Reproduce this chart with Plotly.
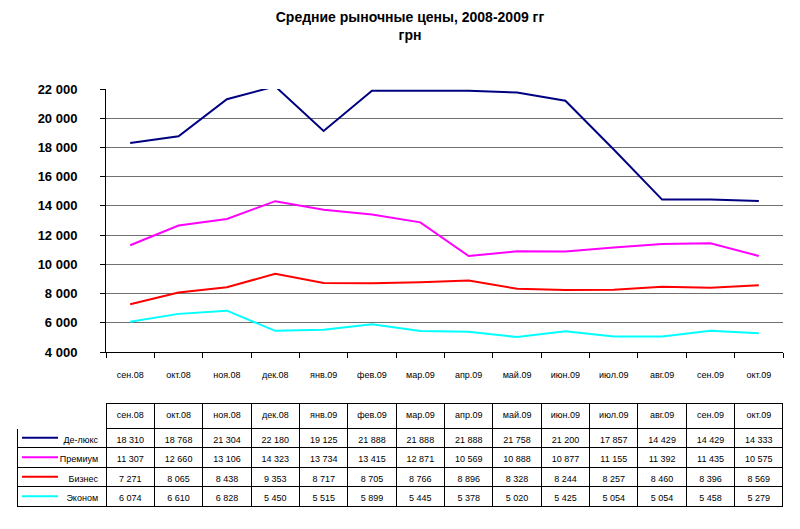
import plotly.graph_objects as go

months = ["сен.08", "окт.08", "ноя.08", "дек.08", "янв.09", "фев.09", "мар.09",
          "апр.09", "май.09", "июн.09", "июл.09", "авг.09", "сен.09", "окт.09"]
series_names = ["Де-люкс", "Премиум", "Бизнес", "Эконом"]
deluxe = [18310, 18768, 21304, 22180, 19125, 21888, 21888, 21888, 21758, 21200, 17857, 14429, 14429, 14333]
premium = [11307, 12660, 13106, 14323, 13734, 13415, 12871, 10569, 10888, 10877, 11155, 11392, 11435, 10575]
business = [7271, 8065, 8438, 9353, 8717, 8705, 8766, 8896, 8328, 8244, 8257, 8460, 8396, 8569]
econom = [6074, 6610, 6828, 5450, 5515, 5899, 5445, 5378, 5020, 5425, 5054, 5054, 5458, 5279]
colors = ["#000080", "#FF00FF", "#FF0000", "#00FFFF"]
all_series = [deluxe, premium, business, econom]

W, H = 800, 529
fig = go.Figure()
for name, vals, c in zip(series_names, all_series, colors):
    fig.add_trace(go.Scatter(x=months, y=vals, mode="lines", name=name,
                             line=dict(color=c, width=2), showlegend=False,
                             cliponaxis=False))

def fmt(v):
    return f"{v:,}".replace(",", " ")

TOP, HDR, ROW = 403, 25, 19.5
cols = [series_names] + [[fmt(s[i]) for s in all_series] for i in range(len(months))]
fig.add_trace(go.Table(
    domain=dict(x=[17 / W, 783 / W], y=[1 - (TOP + HDR + 4 * ROW + 1) / H, 1 - TOP / H]),
    columnwidth=[89] + [48.3] * len(months),
    header=dict(values=[""] + months, height=HDR, align="center",
                font=dict(family="Arial", size=9, color="black"),
                line=dict(color=["white"] + ["black"] * len(months), width=1),
                fill=dict(color="white")),
    cells=dict(values=cols, height=ROW, align=["right"] + ["center"] * len(months),
               font=dict(family="Arial", size=9, color="black"),
               line=dict(color="black", width=1), fill=dict(color="white")),
))

# legend keys inside the table's label column
for i, c in enumerate(colors):
    yc = 1 - (TOP + HDR + ROW * (i + 0.5)) / H
    fig.add_shape(type="line", xref="paper", yref="paper",
                  x0=22 / W, x1=58 / W, y0=yc, y1=yc,
                  line=dict(color=c, width=2))

fig.update_layout(
    width=W, height=H,
    margin=dict(l=0, r=0, t=0, b=0),
    paper_bgcolor="white", plot_bgcolor="white",
    separators=", ",
    title=dict(text="Средние рыночные цены, 2008-2009 гг<br>грн", x=410 / W, xanchor="center",
               y=1 - 22 / H, yanchor="top",
               font=dict(family="Arial", size=14, color="black", weight="bold")),
    xaxis=dict(domain=[106 / W, 783 / W], type="category", range=[-0.5, 13.5],
               tickson="boundaries", automargin=False,
               ticks="outside", ticklen=5, tickcolor="black",
               showline=True, linecolor="black", linewidth=1, showgrid=False,
               tickfont=dict(family="Arial", size=9, color="black"),
               ticklabelstandoff=14, fixedrange=True),
    yaxis=dict(domain=[1 - 352 / H, 1 - 89 / H], range=[4000, 22000], dtick=2000,
               tickformat=",d", ticks="outside", ticklen=5, tickcolor="black",
               automargin=False,
               showline=True, linecolor="black", linewidth=1,
               showgrid=True, gridcolor="#707070", gridwidth=1, zeroline=False,
               tickfont=dict(family="Arial", size=13, color="black", weight="bold"),
               ticklabelstandoff=20, fixedrange=True),
)
fig.write_html("out.html", config={"displayModeBar": False},
               post_script="document.body.style.margin='0';")
